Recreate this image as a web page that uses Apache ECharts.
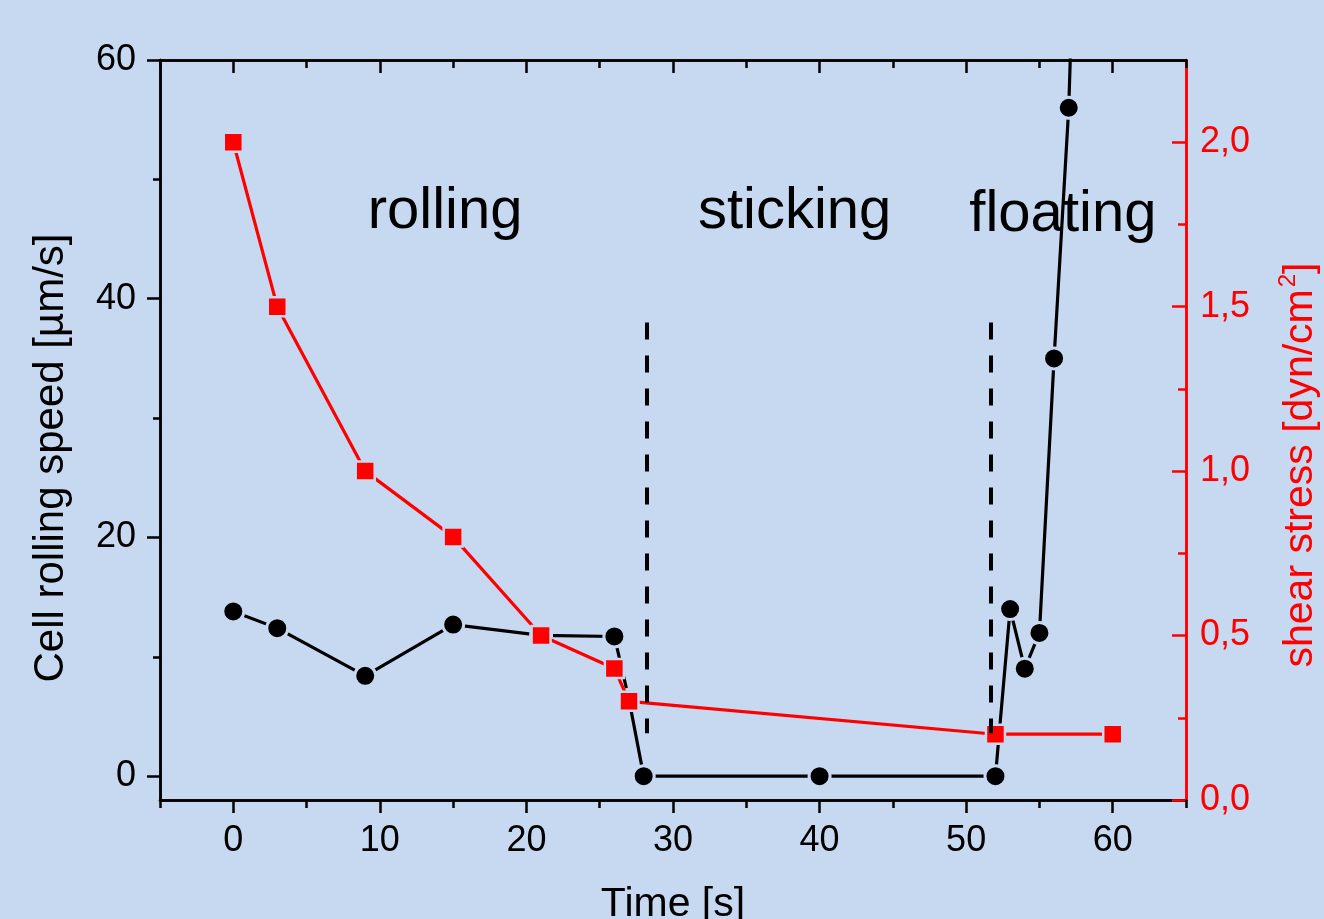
<!DOCTYPE html>
<html>
<head>
    <meta charset="utf-8">
    <title>Cell rolling speed and shear stress</title>
    <script src="https://cdn.jsdelivr.net/npm/echarts@6/dist/echarts.min.js"></script>
    <style>
        html, body { margin: 0; padding: 0; background: #c6d9f0; }
        #chart1 { width: 1324px; height: 919px; }
    </style>
</head>
<body>
<div id="chart1"></div>
<script type="text/javascript">
    // rolling speed (left axis), the last point lies above the top and is clipped
    var speedTime  = [0, 3, 9, 15, 21, 26, 27, 28, 40, 52, 53, 54, 55, 56, 57, 58];
    var speedValue = [13.8, 12.4, 8.4, 12.7, 11.8, 11.7, 6.4, 0, 0, 0, 14.0, 9.0, 12.0, 35.0, 56.0, 95];
    // shear stress (right axis)
    var stressTime  = [0, 3, 9, 15, 21, 26, 27, 52, 60];
    var stressValue = [2.0, 1.5, 1.0, 0.8, 0.5, 0.4, 0.3, 0.2, 0.2];
    // phase borders (time) and their span on the left axis
    var borderTime = [28.2, 51.7];
    var borderSpan = [38, 3.6];
    // phase names and where they sit (time, speed)
    var phaseName = ['rolling', 'sticking', 'floating'];
    var phaseTime = [14.45, 38.3, 56.6];
    var phaseSpeed = [47.3, 47.3, 47.0];
    // ticks
    var xMajor = [0, 10, 20, 30, 40, 50, 60];
    var xMinor = [-5, 5, 15, 25, 35, 45, 55, 65];
    var yMajor = [0, 20, 40, 60];
    var yMinor = [10, 30, 50];
    var rMajor = [0, 0.5, 1.0, 1.5, 2.0];
    var rMinor = [0.25, 0.75, 1.25, 1.75];

    var bg = '#c6d9f0';
    var font = 'Liberation Sans, Arial, sans-serif';

    function zip(a, b) {
        return a.map(function (v, i) { return [v, b[i]]; });
    }

    function xAxisPart(pos, ticks, len, inside, withLabel) {
        return {
            type: 'value', position: pos, min: -5, max: 65,
            axisLine: { show: true, onZero: false, lineStyle: { color: '#000', width: 2.5 } },
            axisTick: { show: true, inside: inside, length: len, customValues: ticks,
                        lineStyle: { color: '#000', width: 2.5 } },
            axisLabel: withLabel ? { show: true, customValues: xMajor, margin: 23,
                        color: '#000', fontSize: 36, fontFamily: font } : { show: false },
            splitLine: { show: false }
        };
    }

    function yAxisPart(pos, min, max, ticks, len, inside, color, label) {
        return {
            type: 'value', position: pos, min: min, max: max,
            axisLine: { show: true, onZero: false, lineStyle: { color: color, width: 2.5 } },
            axisTick: { show: true, inside: inside, length: len, customValues: ticks,
                        lineStyle: { color: color, width: 2.5 } },
            axisLabel: label || { show: false },
            splitLine: { show: false }
        };
    }

    var myChart1 = echarts.init(document.getElementById('chart1'));

    var bottomAxis = xAxisPart('bottom', xMajor, 13, false, true);
    bottomAxis.name = 'Time [s]';
    bottomAxis.nameLocation = 'middle';
    bottomAxis.nameGap = 84;
    bottomAxis.nameTextStyle = { color: '#000', fontSize: 41, fontFamily: font };

    var leftAxis = yAxisPart('left', -2, 60, yMajor, 13, false, '#000', {
        show: true, customValues: yMajor, margin: 24, color: '#000', fontSize: 36, fontFamily: font
    });
    leftAxis.name = 'Cell rolling speed [µm/s]';
    leftAxis.nameLocation = 'middle';
    leftAxis.nameGap = 88;
    leftAxis.nameTextStyle = { color: '#000', fontSize: 42, fontFamily: font, padding: [0, 56, 0, 0] };

    var rightAxis = yAxisPart('right', 0, 2.25, rMajor, 14, true, '#ff0000', {
        show: true, customValues: rMajor, margin: 14, color: '#ff0000', fontSize: 36, fontFamily: font,
        formatter: function (v) { return v.toFixed(1).replace('.', ','); }
    });
    rightAxis.name = 'shear stress [dyn/cm{sup|2}]';
    rightAxis.nameLocation = 'middle';
    rightAxis.nameGap = 90;
    rightAxis.nameTextStyle = {
        color: '#ff0000', fontSize: 41, fontFamily: font, padding: [0, 70, 0, 0],
        rich: { sup: { color: '#ff0000', fontSize: 24, fontFamily: font, verticalAlign: 'top', padding: [0, 0, 26, 2] } }
    };

    myChart1.setOption({
        backgroundColor: bg,
        animation: false,
        grid: { left: 160, right: 138, top: 60, bottom: 119, outerBoundsMode: 'none', containLabel: false },
        xAxis: [
            bottomAxis,
            xAxisPart('bottom', xMinor, 8, false, false),
            xAxisPart('top', xMajor, 13, true, false),
            xAxisPart('top', xMinor, 8, true, false)
        ],
        yAxis: [
            leftAxis,
            rightAxis,
            yAxisPart('left', -2, 60, yMinor, 7, false, '#000'),
            yAxisPart('right', 0, 2.25, rMinor, 8, true, '#ff0000')
        ],
        series: [
            {
                name: 'speed', type: 'line', xAxisIndex: 0, yAxisIndex: 0,
                data: zip(speedTime, speedValue), clip: true,
                symbol: 'circle', symbolSize: 21,
                itemStyle: { color: '#000', borderColor: bg, borderWidth: 3 },
                lineStyle: { color: '#000', width: 3.2 },
                markLine: {
                    silent: true, symbol: 'none', label: { show: false },
                    lineStyle: { color: '#000', width: 4, type: [17, 16] },
                    data: borderTime.map(function (t) {
                        return [{ coord: [t, borderSpan[0]] }, { coord: [t, borderSpan[1]] }];
                    })
                },
                z: 3
            },
            {
                name: 'stress', type: 'line', xAxisIndex: 0, yAxisIndex: 1,
                data: zip(stressTime, stressValue),
                symbol: 'rect', symbolSize: 19,
                itemStyle: { color: '#ff0000', borderColor: bg, borderWidth: 2.5 },
                lineStyle: { color: '#ff0000', width: 3.2 },
                z: 4
            },
            {
                name: 'phases', type: 'scatter', xAxisIndex: 0, yAxisIndex: 0,
                symbolSize: 0, silent: true,
                itemStyle: { opacity: 1 },
                data: phaseName.map(function (n, i) {
                    return { name: n, value: [phaseTime[i], phaseSpeed[i]] };
                }),
                label: {
                    show: true, position: 'inside', formatter: '{b}',
                    color: '#000', fontSize: 58, fontFamily: font
                },
                z: 5
            }
        ]
    });
</script>
</body>
</html>
